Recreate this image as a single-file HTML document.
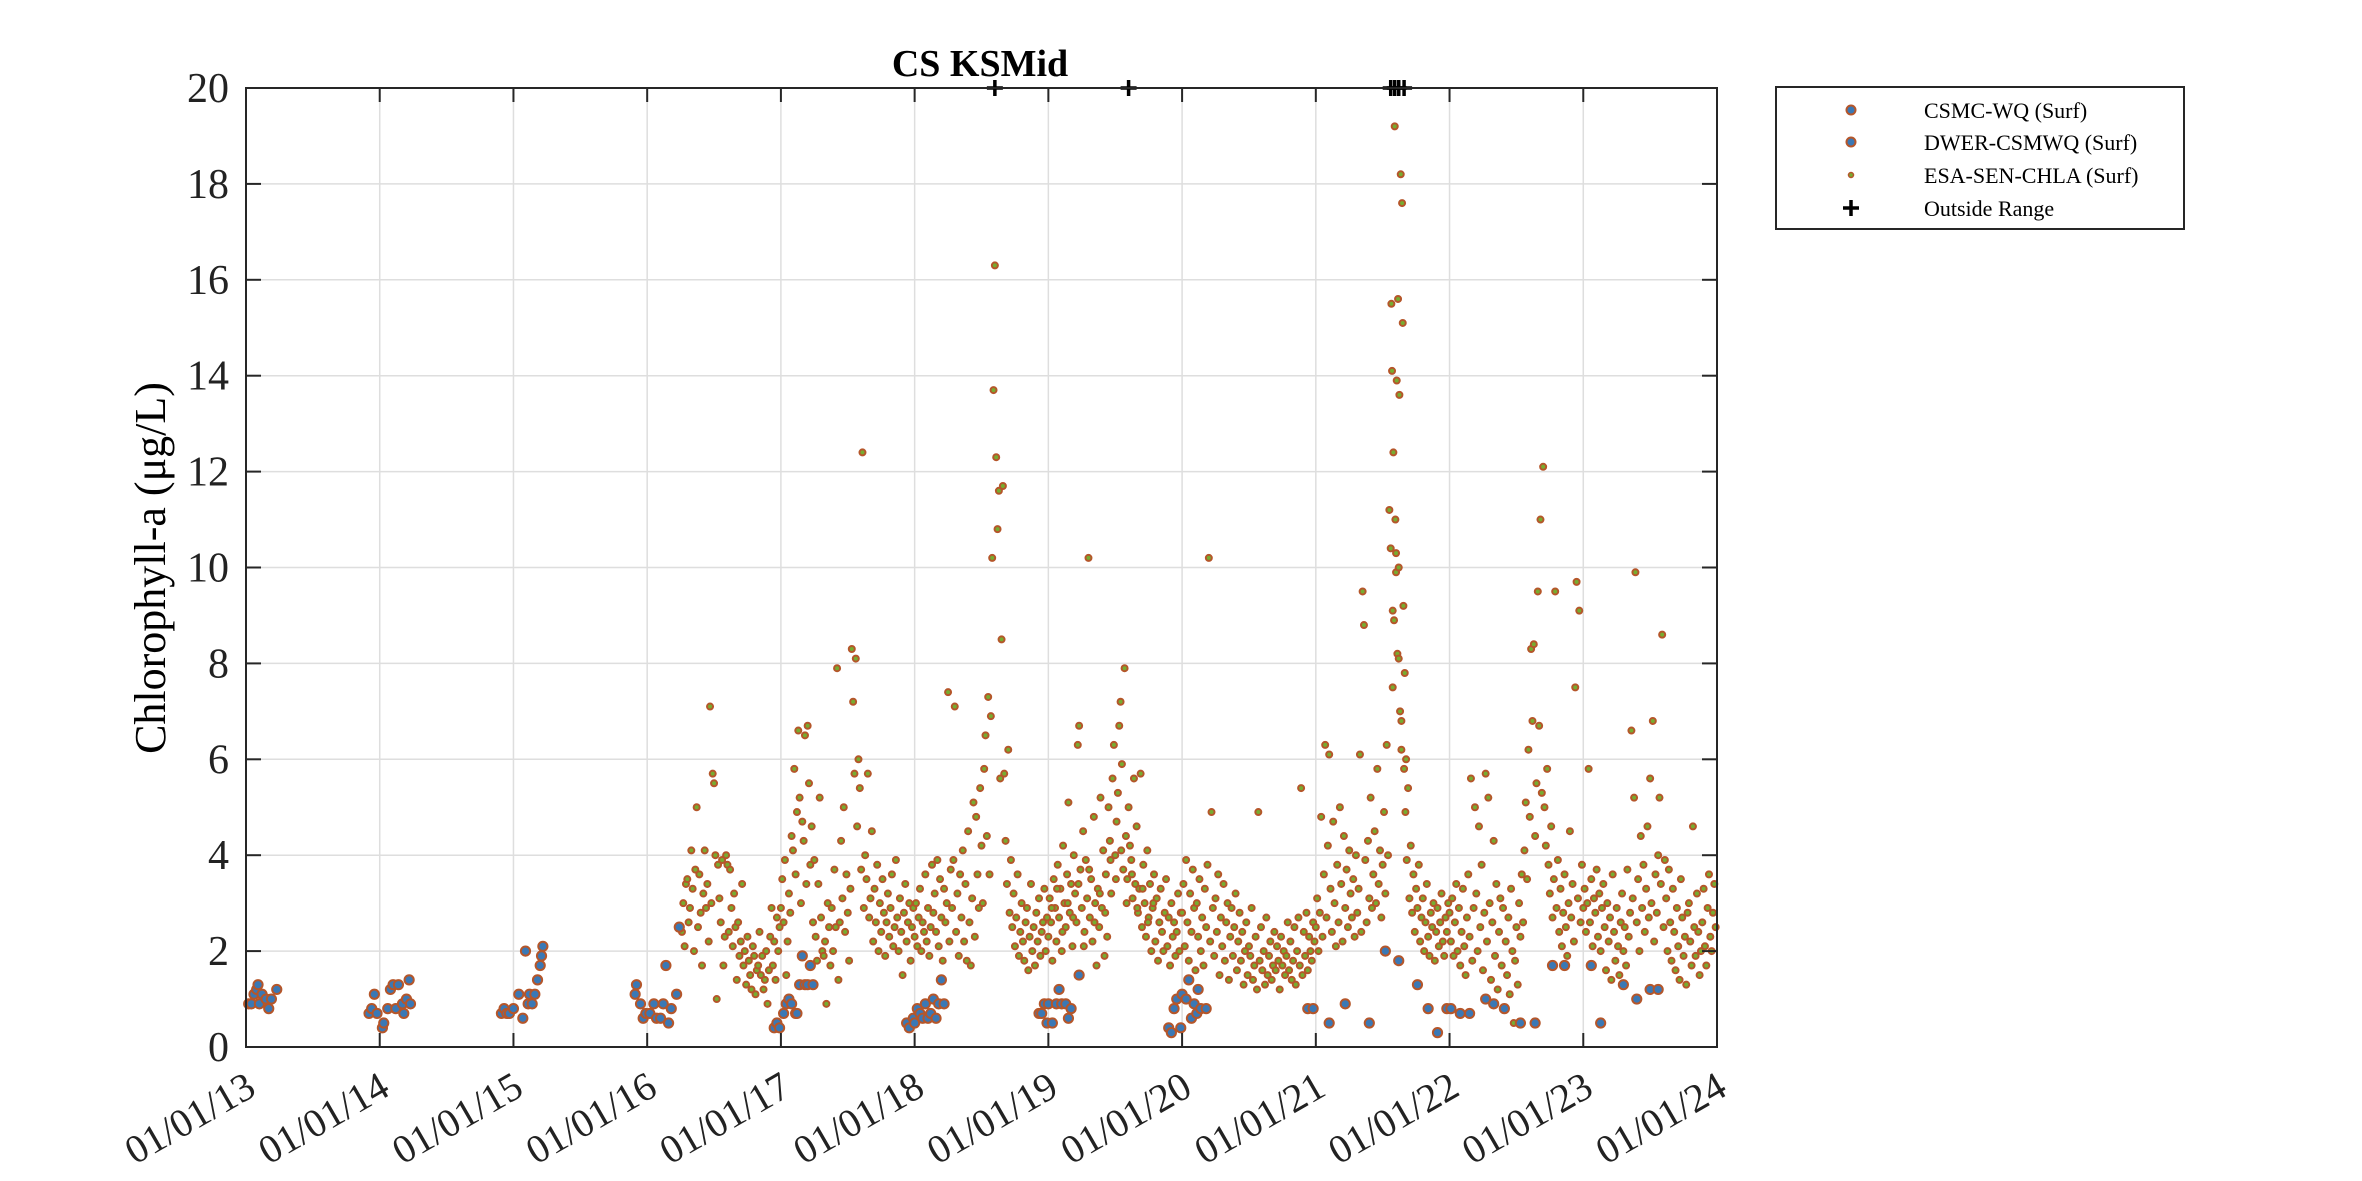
<!DOCTYPE html>
<html><head><meta charset="utf-8"><style>
html,body{margin:0;padding:0;background:#fff;}
svg{display:block;font-family:"Liberation Serif",serif;}
</style></head><body>
<svg id="chart" width="2362" height="1181" viewBox="0 0 2362 1181">
<rect x="0" y="0" width="2362" height="1181" fill="#fff"/>
<g id="grid"></g><g id="marks"></g><g id="axes"></g>
<text x="980" y="76" text-anchor="middle" font-size="38" font-weight="bold" fill="#000">CS KSMid</text>
<text transform="translate(165,568) rotate(-90)" text-anchor="middle" font-size="44" fill="#000">Chlorophyll-a (μg/L)</text>
<g>
<rect x="1776" y="87" width="408" height="142" fill="#fff" stroke="#262626" stroke-width="2"/>
<g><circle cx="1851" cy="110" r="4.5" fill="#3a78b5" stroke="#b5562a" stroke-width="2"/><text x="1924" y="118" font-size="22">CSMC-WQ (Surf)</text></g>
<g><circle cx="1851" cy="142" r="4.5" fill="#3a78b5" stroke="#b5562a" stroke-width="2"/><text x="1924" y="150" font-size="22">DWER-CSMWQ (Surf)</text></g>
<g><circle cx="1851" cy="175" r="2.5" fill="#77ac30" stroke="#b5562a" stroke-width="1.5"/><text x="1924" y="183" font-size="22">ESA-SEN-CHLA (Surf)</text></g>
<g><path d="M1843 208h16M1851 200v16" stroke="#000" stroke-width="3.5"/><text x="1924" y="216" font-size="22">Outside Range</text></g>
</g>
</svg>
<script>
const yTicks=[0,2,4,6,8,10,12,14,16,18,20];
const xTickYears=[2013,2014,2015,2016,2017,2018,2019,2020,2021,2022,2023,2024];
const xTickLabels=["01/01/13","01/01/14","01/01/15","01/01/16","01/01/17","01/01/18","01/01/19","01/01/20","01/01/21","01/01/22","01/01/23","01/01/24"];
const buoyT=[2013.02,2013.04,2013.06,2013.08,2013.09,2013.1,2013.12,2013.15,2013.17,2013.19,2013.23,2013.92,2013.94,2013.96,2013.98,2014.02,2014.03,2014.06,2014.08,2014.1,2014.12,2014.14,2014.17,2014.18,2014.2,2014.22,2014.23,2014.91,2014.93,2014.95,2014.97,2015.0,2015.04,2015.07,2015.09,2015.11,2015.12,2015.14,2015.16,2015.18,2015.2,2015.21,2015.22,2015.91,2015.92,2015.95,2015.97,2015.99,2016.02,2016.05,2016.07,2016.1,2016.12,2016.14,2016.16,2016.18,2016.22,2016.24,2016.95,2016.97,2016.99,2017.02,2017.04,2017.06,2017.08,2017.11,2017.12,2017.14,2017.16,2017.18,2017.2,2017.22,2017.24,2017.94,2017.96,2017.99,2018.0,2018.02,2018.04,2018.06,2018.08,2018.1,2018.12,2018.14,2018.16,2018.18,2018.2,2018.22,2018.93,2018.95,2018.97,2018.99,2019.0,2019.03,2019.06,2019.08,2019.1,2019.13,2019.15,2019.17,2019.23,2019.9,2019.92,2019.94,2019.96,2019.99,2020.0,2020.03,2020.05,2020.07,2020.09,2020.11,2020.12,2020.14,2020.18,2020.94,2020.98,2021.1,2021.22,2021.4,2021.52,2021.62,2021.76,2021.84,2021.91,2021.98,2022.01,2022.08,2022.15,2022.27,2022.33,2022.41,2022.53,2022.64,2022.77,2022.86,2023.06,2023.13,2023.3,2023.4,2023.5,2023.56];
const buoyV=[0.9,0.9,1.1,1.2,1.3,0.9,1.1,1.0,0.8,1.0,1.2,0.7,0.8,1.1,0.7,0.4,0.5,0.8,1.2,1.3,0.8,1.3,0.9,0.7,1.0,1.4,0.9,0.7,0.8,0.7,0.7,0.8,1.1,0.6,2.0,0.9,1.1,0.9,1.1,1.4,1.7,1.9,2.1,1.1,1.3,0.9,0.6,0.7,0.7,0.9,0.6,0.6,0.9,1.7,0.5,0.8,1.1,2.5,0.4,0.5,0.4,0.7,0.9,1.0,0.9,0.7,0.7,1.3,1.9,1.3,1.3,1.7,1.3,0.5,0.4,0.6,0.5,0.8,0.7,0.6,0.9,0.6,0.7,1.0,0.6,0.9,1.4,0.9,0.7,0.7,0.9,0.5,0.9,0.5,0.9,1.2,0.9,0.9,0.6,0.8,1.5,0.4,0.3,0.8,1.0,0.4,1.1,1.0,1.4,0.6,0.9,0.7,1.2,0.8,0.8,0.8,0.8,0.5,0.9,0.5,2.0,1.8,1.3,0.8,0.3,0.8,0.8,0.7,0.7,1.0,0.9,0.8,0.5,0.5,1.7,1.7,1.7,0.5,1.3,1.0,1.2,1.2];
const esa2016=[[.26,2.4],[.27,3.0],[.28,2.1],[.29,3.4],[.30,3.5],[.31,2.6],[.32,2.9],[.33,4.1],[.34,3.3],[.35,2.0],[.36,3.7],[.37,5.0],[.38,2.5],[.39,3.6],[.40,2.8],[.41,1.7],[.42,3.2],[.43,4.1],[.44,2.9],[.45,3.4],[.46,2.2],[.47,7.1],[.48,3.0],[.49,5.7],[.50,5.5],[.51,4.0],[.52,1.0],[.53,3.8],[.54,3.1],[.55,2.6],[.56,3.9],[.57,1.7],[.58,2.3],[.59,4.0],[.60,3.8],[.61,2.4],[.62,3.7],[.63,2.9],[.64,2.1],[.65,3.2],[.66,2.5],[.67,1.4],[.68,2.6],[.69,1.9],[.70,2.2],[.71,3.4],[.72,1.7],[.73,2.0],[.74,1.3],[.75,2.3],[.76,1.8],[.77,1.5],[.78,1.2],[.79,2.1],[.80,1.9],[.81,1.1],[.82,1.6],[.83,1.7],[.84,2.4],[.85,1.5],[.86,1.9],[.87,1.2],[.88,1.4],[.89,2.0],[.90,0.9],[.91,1.6],[.92,2.3],[.93,2.9],[.94,1.7],[.95,2.2],[.96,1.4],[.97,2.7],[.98,2.0],[.99,2.5]];
const esa2017=[[.00,2.9],[.01,3.5],[.02,2.6],[.03,3.9],[.04,1.5],[.05,2.2],[.06,3.2],[.07,2.8],[.08,4.4],[.09,4.1],[.10,5.8],[.11,3.6],[.12,4.9],[.13,6.6],[.14,5.2],[.15,3.0],[.16,4.7],[.17,4.3],[.18,6.5],[.19,3.4],[.20,6.7],[.21,5.5],[.22,3.8],[.23,4.6],[.24,2.6],[.25,3.9],[.26,2.3],[.27,1.8],[.28,3.4],[.29,5.2],[.30,2.7],[.31,2.0],[.32,1.9],[.33,2.2],[.34,0.9],[.35,3.0],[.36,2.5],[.37,1.7],[.38,2.9],[.39,2.0],[.40,3.7],[.41,2.5],[.42,7.9],[.43,1.4],[.44,2.6],[.45,4.3],[.46,3.1],[.47,5.0],[.48,2.4],[.49,3.6],[.50,2.8],[.51,1.8],[.52,3.3],[.53,8.3],[.54,7.2],[.55,5.7],[.56,8.1],[.57,4.6],[.58,6.0],[.59,5.4],[.60,3.7],[.61,12.4],[.62,2.9],[.63,4.0],[.64,3.5],[.65,5.7],[.66,2.7],[.67,3.1],[.68,4.5],[.69,2.2],[.70,3.3],[.71,2.6],[.72,3.8],[.73,2.0],[.74,3.0],[.75,2.4],[.76,3.5],[.77,2.8],[.78,1.9],[.79,2.6],[.80,3.2],[.81,2.3],[.82,2.9],[.83,3.6],[.84,2.1],[.85,2.5],[.86,3.9],[.87,2.7],[.88,2.0],[.89,3.1],[.90,2.4],[.91,1.5],[.92,2.8],[.93,3.4],[.94,2.2],[.95,2.6],[.96,3.0],[.97,1.8],[.98,2.5],[.99,2.9]];
const esa2018=[[.00,2.3],[.01,3.0],[.02,2.1],[.03,2.7],[.04,3.3],[.05,2.0],[.06,2.6],[.07,2.4],[.08,3.6],[.09,2.2],[.10,2.9],[.11,1.9],[.12,2.5],[.13,3.8],[.14,2.8],[.15,3.2],[.16,2.4],[.17,3.9],[.18,2.1],[.19,3.5],[.20,2.7],[.21,1.8],[.22,3.3],[.23,2.6],[.24,3.0],[.25,7.4],[.26,2.2],[.27,3.7],[.28,2.9],[.29,3.9],[.30,7.1],[.31,2.4],[.32,3.2],[.33,1.9],[.34,3.6],[.35,2.7],[.36,4.1],[.37,2.2],[.38,3.4],[.39,1.8],[.40,4.5],[.41,2.6],[.42,1.7],[.43,3.1],[.44,5.1],[.45,2.3],[.46,4.8],[.47,3.6],[.48,2.9],[.49,5.4],[.50,4.2],[.51,3.0],[.52,5.8],[.53,6.5],[.54,4.4],[.55,7.3],[.56,3.6],[.57,6.9],[.58,10.2],[.59,13.7],[.60,16.3],[.61,12.3],[.62,10.8],[.63,11.6],[.64,5.6],[.65,8.5],[.66,11.7],[.67,5.7],[.68,4.3],[.69,3.4],[.70,6.2],[.71,2.8],[.72,3.9],[.73,2.5],[.74,3.2],[.75,2.1],[.76,2.7],[.77,3.6],[.78,1.9],[.79,2.4],[.80,3.0],[.81,2.2],[.82,1.8],[.83,2.6],[.84,2.9],[.85,1.6],[.86,2.3],[.87,3.4],[.88,2.0],[.89,2.5],[.90,1.7],[.91,2.8],[.92,2.2],[.93,3.1],[.94,1.9],[.95,2.4],[.96,2.6],[.97,3.3],[.98,2.0],[.99,2.7]];
const esa2019=[[.00,2.3],[.01,3.1],[.02,2.6],[.03,1.8],[.04,3.5],[.05,2.9],[.06,2.2],[.07,3.8],[.08,2.7],[.09,3.3],[.10,2.0],[.11,4.2],[.12,3.0],[.13,2.5],[.14,3.6],[.15,5.1],[.16,2.8],[.17,3.4],[.18,2.1],[.19,4.0],[.20,3.2],[.21,2.6],[.22,6.3],[.23,6.7],[.24,3.7],[.25,2.9],[.26,4.5],[.27,2.4],[.28,3.9],[.29,3.1],[.30,10.2],[.31,2.7],[.32,3.5],[.33,2.2],[.34,4.8],[.35,3.0],[.36,1.7],[.37,3.3],[.38,2.5],[.39,5.2],[.40,2.9],[.41,4.1],[.42,1.9],[.43,3.6],[.44,2.3],[.45,5.0],[.46,4.3],[.47,3.2],[.48,5.6],[.49,6.3],[.50,4.0],[.51,4.7],[.52,5.3],[.53,6.7],[.54,7.2],[.55,5.9],[.56,3.7],[.57,7.9],[.58,4.4],[.59,3.5],[.60,5.0],[.61,4.2],[.62,3.9],[.63,3.1],[.64,5.6],[.65,3.4],[.66,4.6],[.67,2.8],[.68,3.3],[.69,5.7],[.70,2.5],[.71,3.8],[.72,3.0],[.73,2.3],[.74,4.1],[.75,2.7],[.76,3.4],[.77,2.0],[.78,2.9],[.79,3.6],[.80,2.2],[.81,3.1],[.82,1.8],[.83,2.6],[.84,3.3],[.85,2.4],[.86,2.0],[.87,2.8],[.88,3.5],[.89,2.1],[.90,2.7],[.91,1.7],[.92,3.0],[.93,2.3],[.94,2.6],[.95,1.9],[.96,2.4],[.97,3.2],[.98,2.0],[.99,2.8],[.025,2.9],[.065,3.3],[.105,2.4],[.145,3.0],[.185,2.7],[.225,3.4],[.265,2.1],[.305,3.7],[.345,2.6],[.385,3.2],[.425,2.8],[.465,3.9],[.505,3.5],[.545,4.1],[.585,3.0],[.625,3.6],[.665,2.9],[.705,3.3],[.745,2.6],[.785,3.0]];
const esa2020=[[.00,2.8],[.01,3.4],[.02,2.1],[.03,3.9],[.04,2.6],[.05,1.8],[.06,3.2],[.07,2.4],[.08,3.7],[.09,2.9],[.10,1.6],[.11,3.0],[.12,2.3],[.13,3.5],[.14,2.0],[.15,2.7],[.16,1.7],[.17,3.3],[.18,2.5],[.19,3.8],[.20,10.2],[.21,2.2],[.22,4.9],[.23,2.9],[.24,1.9],[.25,3.1],[.26,2.4],[.27,3.6],[.28,1.5],[.29,2.7],[.30,2.1],[.31,3.4],[.32,1.8],[.33,2.6],[.34,3.0],[.35,1.4],[.36,2.3],[.37,2.9],[.38,1.9],[.39,2.5],[.40,3.2],[.41,1.6],[.42,2.2],[.43,2.8],[.44,1.8],[.45,2.4],[.46,1.3],[.47,2.0],[.48,2.6],[.49,1.5],[.50,2.1],[.51,1.9],[.52,2.9],[.53,1.4],[.54,1.7],[.55,2.3],[.56,1.2],[.57,4.9],[.58,1.8],[.59,2.5],[.60,1.6],[.61,2.0],[.62,1.3],[.63,2.7],[.64,1.5],[.65,1.9],[.66,2.2],[.67,1.4],[.68,1.7],[.69,2.4],[.70,1.6],[.71,2.1],[.72,1.8],[.73,1.2],[.74,2.3],[.75,1.7],[.76,2.0],[.77,1.5],[.78,1.9],[.79,2.6],[.80,1.6],[.81,2.2],[.82,1.4],[.83,1.8],[.84,2.5],[.85,1.3],[.86,2.0],[.87,2.7],[.88,1.7],[.89,5.4],[.90,1.5],[.91,2.4],[.92,1.9],[.93,2.8],[.94,1.6],[.95,2.3],[.96,2.0],[.97,1.8],[.98,2.6],[.99,2.2]];
const esa2021=[[.00,2.5],[.01,3.1],[.02,2.0],[.03,2.8],[.04,4.8],[.05,2.3],[.06,3.6],[.07,6.3],[.08,2.7],[.09,4.2],[.10,6.1],[.11,3.3],[.12,2.4],[.13,4.7],[.14,3.0],[.15,2.1],[.16,3.8],[.17,2.6],[.18,5.0],[.19,3.4],[.20,2.2],[.21,4.4],[.22,2.9],[.23,3.7],[.24,2.5],[.25,4.1],[.26,3.2],[.27,2.7],[.28,3.5],[.29,2.3],[.30,4.0],[.31,2.8],[.32,3.3],[.33,6.1],[.34,2.4],[.35,9.5],[.36,8.8],[.37,3.9],[.38,2.6],[.39,4.3],[.40,3.1],[.41,5.2],[.42,2.9],[.43,3.6],[.44,4.5],[.45,3.0],[.46,5.8],[.47,3.4],[.48,4.1],[.49,2.7],[.50,3.8],[.51,4.9],[.52,3.2],[.53,6.3],[.54,4.0],[.55,11.2],[.56,10.4],[.565,15.5],[.57,14.1],[.575,9.1],[.58,12.4],[.585,8.9],[.59,19.2],[.595,11.0],[.60,9.9],[.605,13.9],[.61,8.2],[.615,15.6],[.62,10.0],[.625,13.6],[.63,7.0],[.635,18.2],[.64,6.2],[.645,17.6],[.65,15.1],[.655,9.2],[.66,5.8],[.665,7.8],[.67,4.9],[.675,6.0],[.68,3.9],[.69,5.4],[.70,3.1],[.71,4.2],[.72,2.8],[.73,3.6],[.74,2.4],[.75,3.3],[.76,2.9],[.77,3.8],[.78,2.2],[.79,2.7],[.80,3.1],[.81,2.0],[.82,2.6],[.83,3.4],[.84,2.3],[.85,1.9],[.86,2.8],[.87,2.5],[.88,3.0],[.89,1.8],[.90,2.4],[.91,2.9],[.92,2.1],[.93,2.6],[.94,3.2],[.95,2.2],[.96,1.9],[.97,2.7],[.98,2.4],[.99,3.0],[.575,7.5],[.60,10.3],[.62,8.1],[.64,6.8]];
const esa2022=[[.00,2.8],[.01,2.2],[.02,3.1],[.03,1.9],[.04,2.6],[.05,3.4],[.06,2.0],[.07,2.9],[.08,1.7],[.09,2.4],[.10,3.3],[.11,2.1],[.12,1.5],[.13,2.7],[.14,3.6],[.15,2.3],[.16,5.6],[.17,1.8],[.18,2.9],[.19,5.0],[.20,3.2],[.21,2.0],[.22,4.6],[.23,2.5],[.24,3.8],[.25,1.6],[.26,2.8],[.27,5.7],[.28,2.2],[.29,5.2],[.30,3.0],[.31,1.4],[.32,2.6],[.33,4.3],[.34,1.9],[.35,3.4],[.36,1.2],[.37,2.4],[.38,3.1],[.39,1.7],[.40,2.9],[.41,0.8],[.42,2.2],[.43,1.5],[.44,2.7],[.45,1.1],[.46,3.3],[.47,2.0],[.48,0.5],[.49,1.8],[.50,2.5],[.51,1.3],[.52,3.0],[.53,2.3],[.54,3.6],[.55,2.6],[.56,4.1],[.57,5.1],[.58,3.5],[.59,6.2],[.60,4.8],[.61,8.3],[.62,6.8],[.63,8.4],[.64,4.4],[.65,5.5],[.66,9.5],[.67,6.7],[.68,11.0],[.69,5.3],[.70,12.1],[.71,5.0],[.72,4.2],[.73,5.8],[.74,3.8],[.75,3.2],[.76,4.6],[.77,2.7],[.78,3.5],[.79,9.5],[.80,2.9],[.81,3.9],[.82,2.4],[.83,3.3],[.84,2.1],[.85,2.8],[.86,3.6],[.87,2.5],[.88,1.9],[.89,3.0],[.90,4.5],[.91,2.7],[.92,3.4],[.93,2.2],[.94,7.5],[.95,9.7],[.96,3.1],[.97,9.1],[.98,2.6],[.99,3.8]];
const esa2023=[[.00,2.9],[.01,3.3],[.02,2.4],[.03,3.0],[.04,5.8],[.05,2.6],[.06,3.5],[.07,2.1],[.08,3.1],[.09,2.8],[.10,3.7],[.11,2.3],[.12,3.2],[.13,2.0],[.14,2.9],[.15,3.4],[.16,2.5],[.17,1.6],[.18,3.0],[.19,2.2],[.20,2.7],[.21,1.4],[.22,3.6],[.23,2.4],[.24,1.8],[.25,2.9],[.26,2.1],[.27,1.5],[.28,2.6],[.29,3.2],[.30,2.0],[.31,2.5],[.32,1.7],[.33,3.7],[.34,2.3],[.35,2.8],[.36,6.6],[.37,3.1],[.38,5.2],[.39,9.9],[.40,2.6],[.41,3.5],[.42,2.0],[.43,4.4],[.44,2.9],[.45,3.8],[.46,2.4],[.47,3.3],[.48,4.6],[.49,2.7],[.50,5.6],[.51,3.0],[.52,6.8],[.53,2.2],[.54,3.6],[.55,2.8],[.56,4.0],[.57,5.2],[.58,3.4],[.59,8.6],[.60,2.5],[.61,3.9],[.62,3.1],[.63,2.0],[.64,3.7],[.65,2.6],[.66,1.8],[.67,3.3],[.68,2.4],[.69,1.6],[.70,2.9],[.71,2.1],[.72,1.4],[.73,3.5],[.74,2.7],[.75,1.9],[.76,2.3],[.77,1.3],[.78,2.8],[.79,3.0],[.80,2.2],[.81,1.7],[.82,4.6],[.83,2.5],[.84,1.9],[.85,3.2],[.86,2.4],[.87,1.5],[.88,2.0],[.89,2.6],[.90,3.3],[.91,2.1],[.92,1.7],[.93,2.9],[.94,3.6],[.95,2.3],[.96,2.0],[.97,2.8],[.98,3.4],[.99,2.5]];
const esaYears=[2016,2017,2018,2019,2020,2021,2022,2023];
const esaByYear=[esa2016,esa2017,esa2018,esa2019,esa2020,esa2021,esa2022,esa2023];
const outsideT=[2018.6,2019.6,2021.56,2021.59,2021.62,2021.66];
const outsideV=[20,20,20,20,20,20];

const L=246,R=1717,T=88,B=1047,X0=2013,X1=2024,Y0=0,Y1=20;
const xs=t=>L+(t-X0)/(X1-X0)*(R-L);
const ys=v=>B-(v-Y0)/(Y1-Y0)*(B-T);
const NS='http://www.w3.org/2000/svg';
function mk(tag,attrs,parent){const e=document.createElementNS(NS,tag);for(const k in attrs)e.setAttribute(k,attrs[k]);parent.appendChild(e);return e;}
const grid=document.getElementById('grid'),marks=document.getElementById('marks'),axes=document.getElementById('axes');
xTickYears.forEach((yr,i)=>{
  const x=xs(yr);
  const g=mk('line',{x1:x,x2:x,y1:T,y2:B,stroke:'#dedede','stroke-width':1.5},grid);
  
  
  mk('line',{x1:x,x2:x,y1:B,y2:B-14,stroke:'#262626','stroke-width':2},axes);
  mk('line',{x1:x,x2:x,y1:T,y2:T+14,stroke:'#262626','stroke-width':2},axes);
  const lx=x+12,ly=1094;
  const t=mk('text',{x:lx,y:ly,'text-anchor':'end','font-size':40,fill:'#222',transform:`rotate(-30 ${lx} ${ly})`},axes);
  t.textContent=xTickLabels[i];
  
  
});
yTicks.forEach(v=>{
  const y=ys(v);
  const g=mk('line',{x1:L,x2:R,y1:y,y2:y,stroke:'#dedede','stroke-width':1.5},grid);
  
  
  mk('line',{x1:L,x2:L+15,y1:y,y2:y,stroke:'#262626','stroke-width':2},axes);
  mk('line',{x1:R,x2:R-15,y1:y,y2:y,stroke:'#262626','stroke-width':2},axes);
  const t=mk('text',{x:229,y:y+14,'text-anchor':'end','font-size':42,fill:'#222'},axes);
  t.textContent=String(v);
  
  
});
const box=mk('rect',{x:L,y:T,width:R-L,height:B-T,fill:'none',stroke:'#262626','stroke-width':2},axes);


esaByYear.forEach((arr,i)=>{
  arr.forEach(p=>{
    const c=mk('circle',{cx:xs(esaYears[i]+p[0]),cy:ys(p[1]),r:3,fill:'#77ac30',stroke:'#b5562a','stroke-width':2},marks);
    
    
  });
});
buoyT.forEach((t,i)=>{
  const c=mk('circle',{cx:xs(t),cy:ys(buoyV[i]),r:4.6,fill:'#3a78b5',stroke:'#b5562a','stroke-width':2},marks);
  
  
});
outsideT.forEach((t,i)=>{
  const x=xs(t),y=ys(outsideV[i]);
  const p=mk('path',{d:`M${x-8} ${y}h16M${x} ${y-8}v16`,stroke:'#000','stroke-width':3.5},marks);
  
  
});
</script>
</body></html>
